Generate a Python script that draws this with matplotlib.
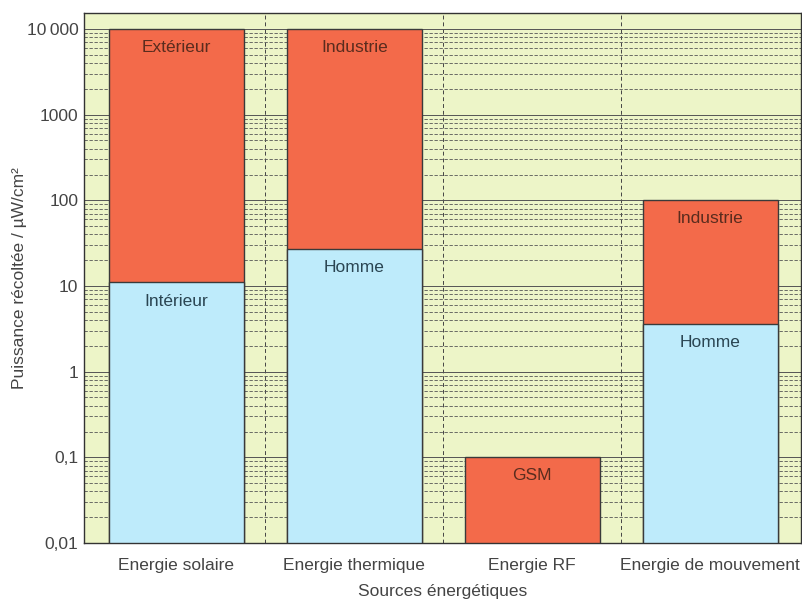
import matplotlib.pyplot as plt
import matplotlib.ticker as mticker
import numpy as np

plt.rcParams['font.family'] = ['Liberation Sans', 'DejaVu Sans']

# data
sources = ['Energie solaire', 'Energie thermique', 'Energie RF', 'Energie de mouvement']
upper_values = [10000, 10000, 0.1, 100]
upper_labels = ['Extérieur', 'Industrie', 'GSM', 'Industrie']
lower_values = [11, 27, None, 3.6]
lower_labels = ['Intérieur', 'Homme', None, 'Homme']
ytick_values = [0.01, 0.1, 1, 10, 100, 1000, 10000]
ytick_labels = ['0,01', '0,1', '1', '10', '100', '1000', '10\u2009000']

orange = '#F36A4A'
blue = '#BEEBFB'
bg = '#EDF5C8'

fig = plt.figure(figsize=(8.02, 5.99), dpi=100)
ax = fig.add_axes([0.1047, 0.0935, 0.894, 0.885])
ax.set_facecolor(bg)

x = np.arange(len(sources))
width = 0.76
bottom = 0.01

ax.bar(x, np.array(upper_values) - bottom, width, bottom=bottom, color=orange,
       edgecolor='#3a3a3a', linewidth=1.0, zorder=3)
for i, v in enumerate(lower_values):
    if v is not None:
        ax.bar(x[i], v - bottom, width, bottom=bottom, color=blue,
               edgecolor='#3a3a3a', linewidth=1.0, zorder=4)

for i, (v, lab) in enumerate(zip(upper_values, upper_labels)):
    ax.annotate(lab, (x[i], v), xytext=(0, -8), textcoords='offset points',
                ha='center', va='top', fontsize=12.5, color='#5a2c1e', zorder=5)
for i, (v, lab) in enumerate(zip(lower_values, lower_labels)):
    if v is not None:
        ax.annotate(lab, (x[i], v), xytext=(0, -8), textcoords='offset points',
                    ha='center', va='top', fontsize=12.5, color='#2a4552', zorder=5)

ax.set_yscale('log')
ax.set_ylim(0.01, 15400)
ax.set_xlim(-0.52, 3.51)

ax.yaxis.set_major_locator(mticker.FixedLocator(ytick_values))
ax.yaxis.set_major_formatter(mticker.FixedFormatter(ytick_labels))
ax.yaxis.set_minor_locator(mticker.LogLocator(base=10, subs=np.arange(2, 10)))
ax.yaxis.set_minor_formatter(mticker.NullFormatter())
ax.set_xticks(x)
ax.set_xticklabels(sources)
ax.tick_params(axis='both', which='both', length=0, labelsize=12.5, colors='#444444')
ax.tick_params(axis='x', pad=11)
ax.tick_params(axis='y', pad=4)

ax.grid(True, which='major', axis='y', color='#555555', linewidth=0.7, zorder=1)
ax.grid(True, which='minor', axis='y', color='#555555', linewidth=0.6,
        linestyle=(0, (4, 2)), zorder=1)
for sep in [0.5, 1.5, 2.5]:
    ax.axvline(sep, color='#444444', linewidth=0.7, linestyle=(0, (4, 3)), zorder=1)

for s in ax.spines.values():
    s.set_color('#333333')
    s.set_linewidth(1.0)

ax.set_xlabel('Sources énergétiques', fontsize=12.5, color='#444444', labelpad=8)
ax.set_ylabel('Puissance récoltée / µW/cm²', fontsize=12.5, color='#444444', labelpad=0)

fig.savefig('out.png', dpi=100)
